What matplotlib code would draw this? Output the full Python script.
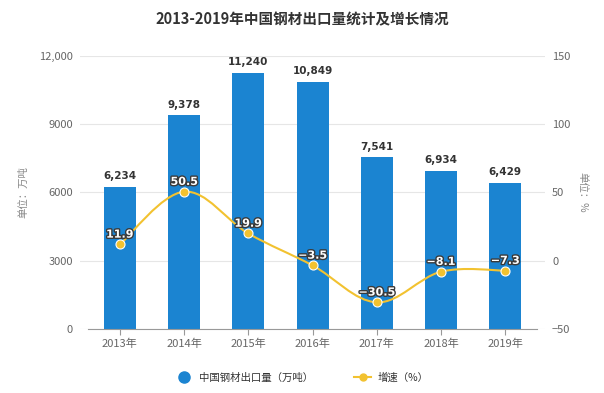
import numpy as np
import matplotlib
matplotlib.use("Agg")
import matplotlib.pyplot as plt
from matplotlib.path import Path
from matplotlib.patches import PathPatch
from matplotlib.lines import Line2D
import matplotlib.patheffects as pe

plt.rcParams['font.family'] = ['Noto Sans CJK SC', 'DejaVu Sans']

years = ['2013年', '2014年', '2015年', '2016年', '2017年', '2018年', '2019年']
exports = [6234, 9378, 11240, 10849, 7541, 6934, 6429]
growth = [11.9, 50.5, 19.9, -3.5, -30.5, -8.1, -7.3]
title = '2013-2019年中国钢材出口量统计及增长情况'
bar_label = '中国钢材出口量（万吨）'
line_label = '增速（%）'

bar_color = '#1b84d1'
line_color = '#f2c230'
tick_color = '#666666'
grid_color = '#e6e6e6'

fig = plt.figure(figsize=(6.04, 3.93), dpi=100)
ax = fig.add_axes([0.1325, 0.163, 0.770, 0.695])
ax2 = ax.twinx()

x = np.arange(len(years))
ax.bar(x, exports, width=0.5, color=bar_color, zorder=2)
ax.set_xlim(-0.62, len(years) - 1 + 0.62)
ax.set_ylim(0, 12000)
ax.set_yticks([0, 3000, 6000, 9000, 12000])
ax.set_yticklabels(['0', '3000', '6000', '9000', '12,000'])
ax.grid(axis='y', color=grid_color, linewidth=0.8, zorder=0)
ax.set_axisbelow(True)
for s in ax.spines.values():
    s.set_visible(False)
for s in ax2.spines.values():
    s.set_visible(False)
ax.plot([-0.5, len(years) - 0.5], [0, 0], color='#999999', linewidth=0.8, clip_on=False, zorder=3)
ax.set_xticks(x)
ax.set_xticklabels(years)
ax.tick_params(axis='x', length=4, width=0.8, color='#999999', direction='out', pad=3,
               labelsize=8, labelcolor=tick_color)
ax.tick_params(axis='y', length=0, pad=5, labelsize=8, labelcolor=tick_color)
ax.set_ylabel('单位：万吨', color='#888888', fontsize=7.5, labelpad=8)

for xi, v in zip(x, exports):
    ax.text(xi, v + 250, f'{v:,}', ha='center', va='bottom', fontsize=7.5,
            fontweight='bold', color='#333333', family=['DejaVu Sans'], zorder=5)

ax2.set_ylim(-50, 150)
ax2.set_yticks([-50, 0, 50, 100, 150])
ax2.tick_params(axis='y', length=0, pad=5, labelsize=8, labelcolor=tick_color)
ax2.set_ylabel('单位：%', color='#888888', fontsize=7.5, rotation=270, labelpad=12)

# smooth curve (cubic Bezier path through the data points)
pts = np.column_stack([x, growth]).astype(float)
n = len(pts)
smooth = 0.35
verts = [tuple(pts[0])]
codes = [Path.MOVETO]
for i in range(n - 1):
    p0 = pts[i - 1] if i > 0 else pts[i]
    p1 = pts[i]
    p2 = pts[i + 1]
    p3 = pts[i + 2] if i + 2 < n else pts[i + 1]
    c1 = p1 + smooth * (p2 - p0) / 2
    c2 = p2 - smooth * (p3 - p1) / 2
    verts += [tuple(c1), tuple(c2), tuple(p2)]
    codes += [Path.CURVE4, Path.CURVE4, Path.CURVE4]
patch = PathPatch(Path(verts, codes), facecolor='none', edgecolor=line_color,
                  linewidth=1.5, zorder=4)
ax2.add_patch(patch)
ax2.plot(x, growth, linestyle='none', marker='o', markersize=6.5,
         markerfacecolor=line_color, markeredgecolor='white', markeredgewidth=0.8, zorder=5)
for xi, v in zip(x, growth):
    s = f'{v}'.replace('-', '−')
    ax2.text(xi, v + 3.5, s, ha='center', va='bottom', fontsize=8, fontweight='bold',
             color='white', family=['DejaVu Sans'], zorder=6,
             path_effects=[pe.withStroke(linewidth=2, foreground='#3a3a3a')])

fig.text(0.5, 0.952, title, ha='center', va='center', fontsize=10.5,
         fontweight='bold', color='#333333')

handles = [
    Line2D([], [], linestyle='none', marker='o', markersize=8, markerfacecolor=bar_color,
           markeredgecolor=bar_color),
    Line2D([], [], color=line_color, marker='o', markersize=5, linewidth=1.5,
           markerfacecolor=line_color, markeredgecolor=line_color),
]
fig.legend(handles, [bar_label, line_label], loc='center', bbox_to_anchor=(0.5, 0.04),
           ncol=2, frameon=False, fontsize=7.5, handlelength=1.6, columnspacing=4,
           handletextpad=0.6, labelcolor='#333333')

fig.savefig('out.png', dpi=100)
